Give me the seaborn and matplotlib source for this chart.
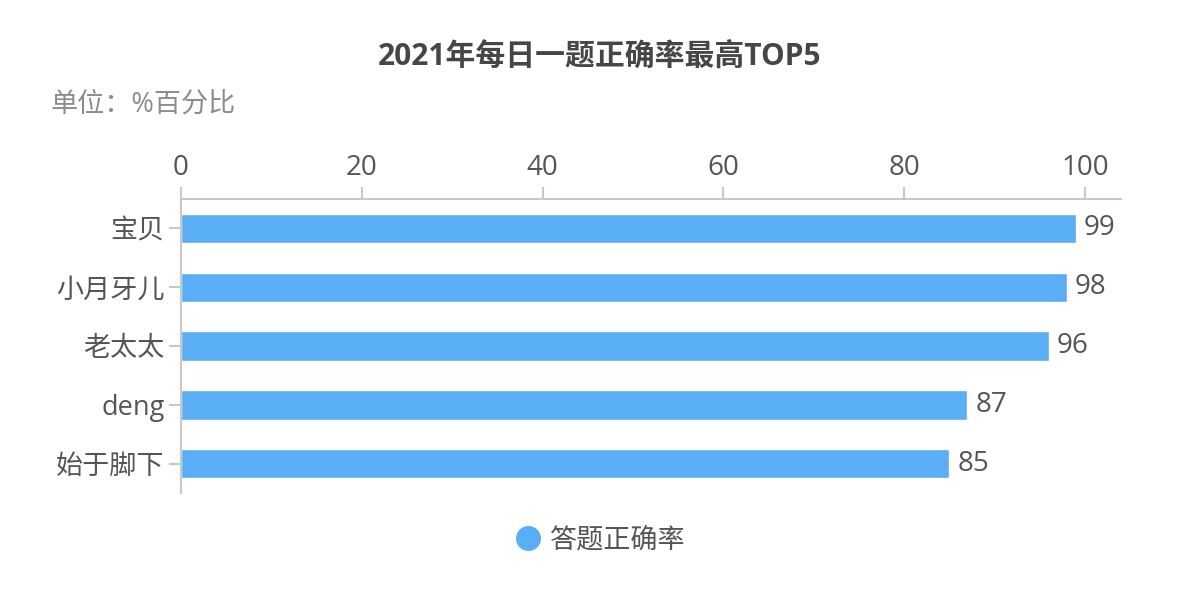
import matplotlib
matplotlib.use("Agg")
import matplotlib.pyplot as plt
from matplotlib.lines import Line2D
import seaborn as sns
import pandas as pd

categories = ["宝贝", "小月牙儿", "老太太", "deng", "始于脚下"]
values = [99, 98, 96, 87, 85]
x_ticks = [0, 20, 40, 60, 80, 100]
series_name = "答题正确率"
title = "2021年每日一题正确率最高TOP5"
subtitle = "单位：%百分比"

sns.set_theme(style="white")
plt.rcParams['font.family'] = ['Open Sans', 'Noto Sans CJK SC', 'DejaVu Sans']

bar_color = "#5AAEF5"
text_color = "#555555"
axis_color = "#C8C8C8"

df = pd.DataFrame({"name": categories, "value": values})

fig = plt.figure(figsize=(12, 6), dpi=100)
ax = fig.add_axes([181/1200, 1-493/600, (1121-181)/1200, (493-199)/600])

sns.barplot(data=df, y="name", x="value", orient="h", color=bar_color,
            width=0.5, ax=ax, saturation=1)

ax.set_xlim(0, 104)
ax.set_ylim(4.5, -0.5)
ax.set_xticks(x_ticks)
ax.xaxis.tick_top()
ax.xaxis.set_label_position("top")
ax.set_xlabel("")
ax.set_ylabel("")

for s in ["right", "bottom"]:
    ax.spines[s].set_visible(False)
for s in ["top", "left"]:
    ax.spines[s].set_visible(True)
    ax.spines[s].set_color(axis_color)
    ax.spines[s].set_linewidth(1.5)

ax.tick_params(axis="x", which="both", top=True, bottom=False, length=9, width=1.5,
               color=axis_color, labelsize=20, labelcolor=text_color, pad=3)
ax.tick_params(axis="y", which="both", left=True, length=9, width=1.5,
               color=axis_color, labelsize=19.5, labelcolor=text_color, pad=3)

for i, v in enumerate(values):
    ax.text(v + 0.9, i, f"{v}", va="center", ha="left", fontsize=20, color=text_color)

fig.text(0.5, 1-57/600, title, ha="center", va="center", fontsize=21.5,
         fontweight="bold", color="#464646")
fig.text(50/1200, 1-105/600, subtitle, ha="left", va="center", fontsize=19.5,
         color="#8C8C8C")

handle = Line2D([0], [0], marker="o", linestyle="none", markersize=17,
                markerfacecolor=bar_color, markeredgecolor=bar_color)
leg = fig.legend([handle], [series_name], loc="center", bbox_to_anchor=(0.5, 1-540/600),
                 frameon=False, fontsize=19.5, handletextpad=0.3, handlelength=1.0)
for t in leg.get_texts():
    t.set_color(text_color)

fig.savefig("out.png", dpi=100)
